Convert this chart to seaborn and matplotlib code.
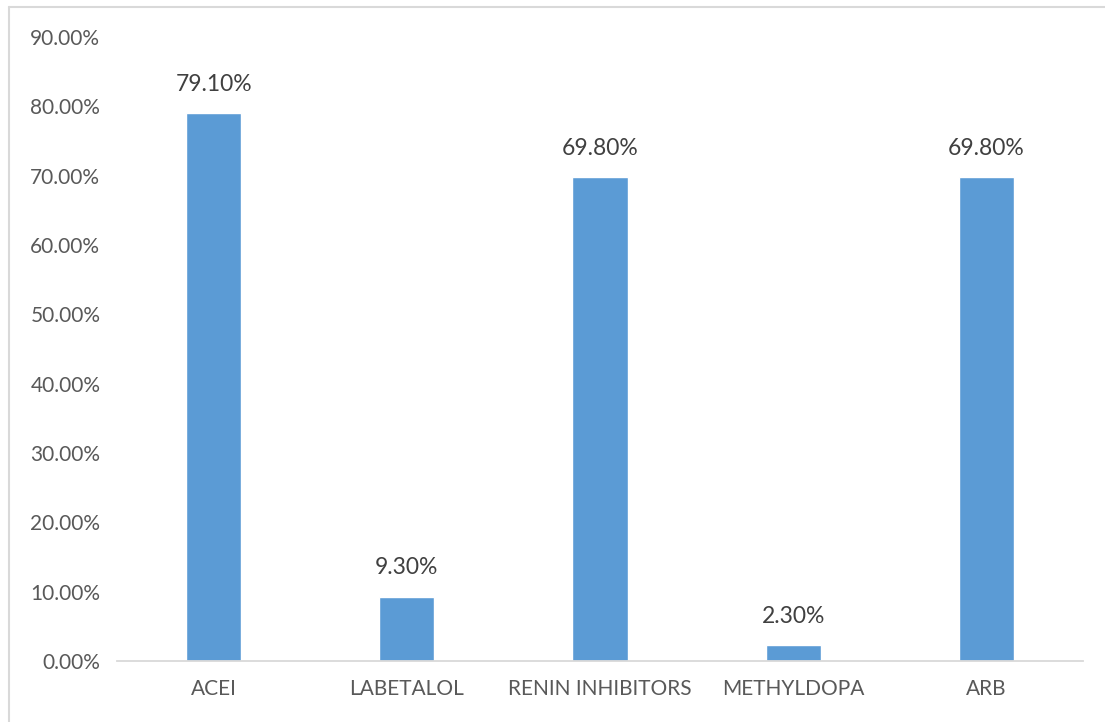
import matplotlib
matplotlib.use("Agg")
import matplotlib.pyplot as plt
from matplotlib.lines import Line2D
from matplotlib.ticker import FuncFormatter, FixedLocator
import seaborn as sns
import pandas as pd

categories = ["ACEI", "LABETALOL", "RENIN INHIBITORS", "METHYLDOPA", "ARB"]
values = [79.10, 9.30, 69.80, 2.30, 69.80]
labels = ["79.10%", "9.30%", "69.80%", "2.30%", "69.80%"]
yticks = [0, 10, 20, 30, 40, 50, 60, 70, 80, 90]

sns.set_theme(style="white")
plt.rcParams["font.family"] = ["Lato", "DejaVu Sans"]

df = pd.DataFrame({"cat": categories, "val": values})

fig = plt.figure(figsize=(11.05, 7.22), dpi=100)
ax = fig.add_axes([117/1105, 1 - 661/722, (1083 - 117)/1105, (661 - 37)/722])

sns.barplot(data=df, x="cat", y="val", color="#5B9BD5", width=0.285,
            saturation=1, ax=ax, order=categories)

ax.set_ylim(0, 90)
ax.set_xlim(-0.5, len(categories) - 0.5)
ax.yaxis.set_major_locator(FixedLocator(yticks))
ax.yaxis.set_major_formatter(FuncFormatter(lambda v, p: f"{v:.2f}%"))
ax.set_xlabel("")
ax.set_ylabel("")

for s in ["top", "right", "left"]:
    ax.spines[s].set_visible(False)
ax.spines["bottom"].set_color("#D9D9D9")
ax.spines["bottom"].set_linewidth(1.3)

ax.tick_params(axis="y", length=0, labelsize=15, labelcolor="#595959", pad=12)
ax.tick_params(axis="x", which="major", length=0, labelsize=15, labelcolor="#595959", pad=13)
ax.set_xticks(range(len(categories)))
ax.set_xticklabels(categories)
ax.set_xticks([i - 0.5 for i in range(len(categories) + 1)], minor=True)
ax.tick_params(axis="x", which="minor", length=8, width=1.3, color="#D9D9D9", direction="out")

for i, (v, lab) in enumerate(zip(values, labels)):
    ax.annotate(lab, (i, v), xytext=(0, 13), textcoords="offset points",
                ha="center", va="bottom", fontsize=16.5, color="#404040")

fig.add_artist(Line2D([9/1105, 1], [1 - 7/722, 1 - 7/722], transform=fig.transFigure,
                      color="#D9D9D9", lw=1.5))
fig.add_artist(Line2D([9/1105, 9/1105], [0, 1 - 7/722], transform=fig.transFigure,
                      color="#D9D9D9", lw=1.5))

fig.savefig("out.png", dpi=100, facecolor="white")
